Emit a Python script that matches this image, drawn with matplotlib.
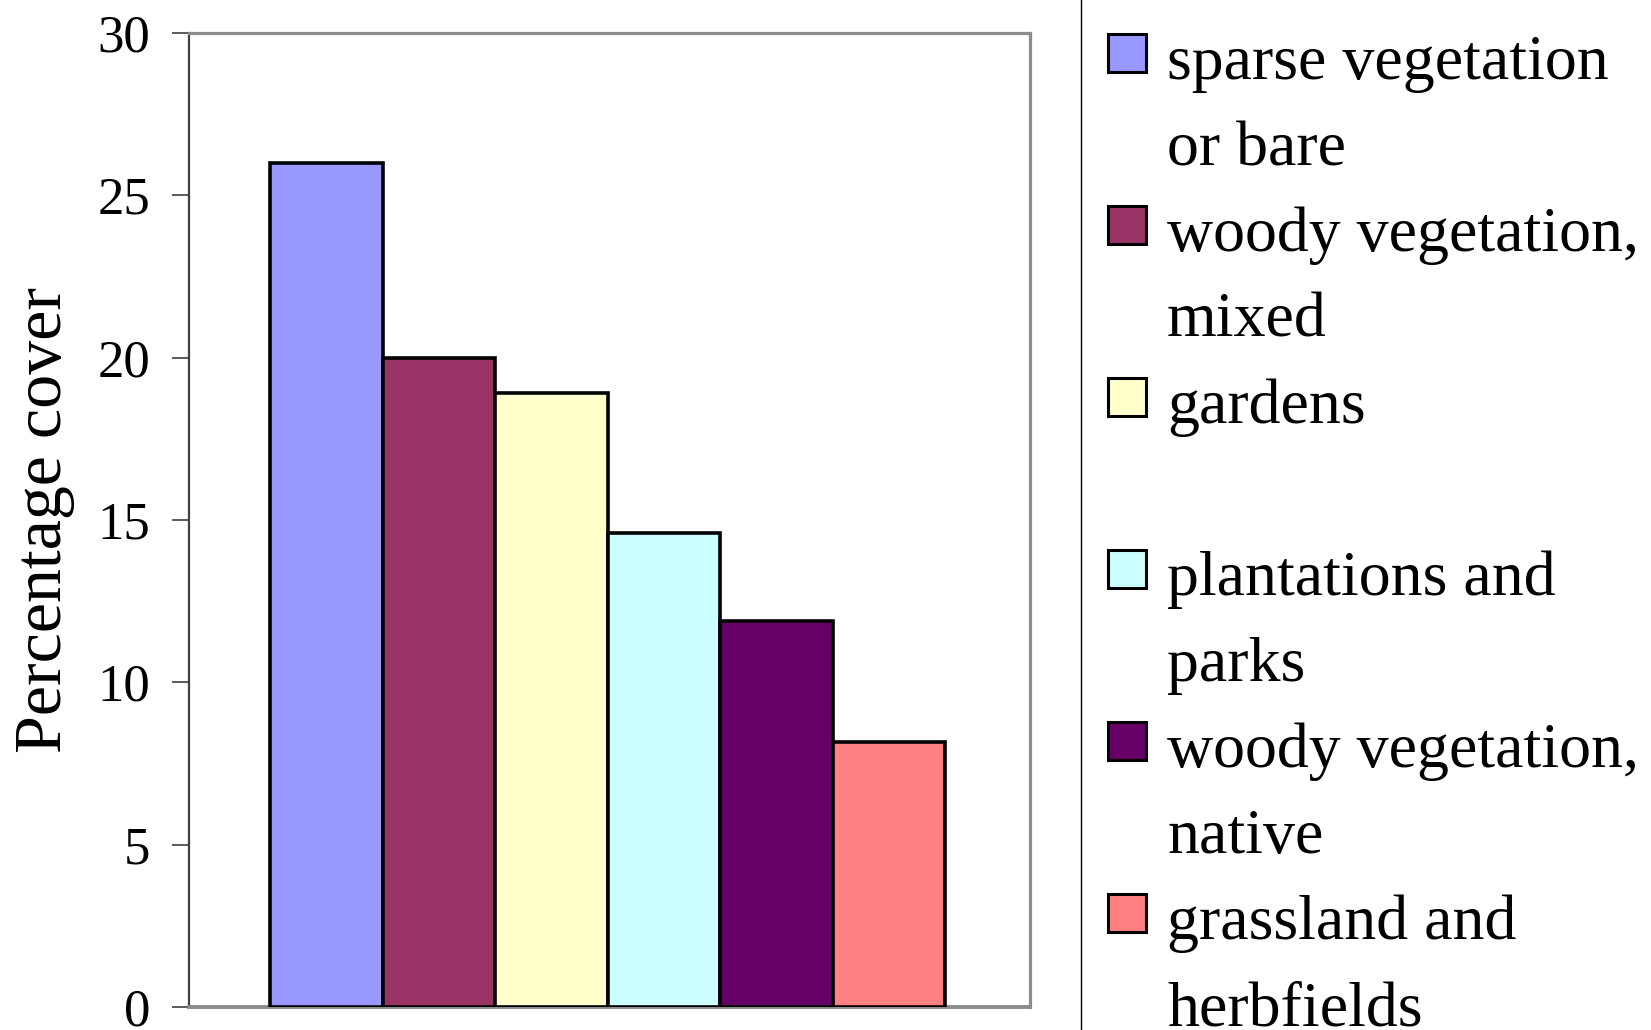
import numpy as np
import matplotlib.pyplot as plt
from matplotlib.patches import Rectangle
from matplotlib.lines import Line2D

plt.rcParams['font.family'] = ['Liberation Serif', 'DejaVu Serif']

# data
categories = ["sparse vegetation or bare", "woody vegetation, mixed", "gardens",
              "plantations and parks", "woody vegetation, native", "grassland and herbfields"]
legend_labels = ["sparse vegetation\nor bare", "woody vegetation,\nmixed", "gardens",
                 "plantations and\nparks", "woody vegetation,\nnative", "grassland and\nherbfields"]
values = [26.0, 20.0, 18.9, 14.6, 11.9, 8.15]
colors = ["#9999FF", "#993366", "#FFFFCC", "#CCFFFF", "#660066", "#FF8080"]
yticks = [0, 5, 10, 15, 20, 25, 30]

W, H = 1651, 1030
fig = plt.figure(figsize=(W / 100, H / 100), dpi=100)
ax = fig.add_axes([189 / W, 1 - 1007 / H, 841 / W, 974 / H])

x = np.arange(len(values))
ax.bar(x, values, width=1.0, color=colors, edgecolor='black', linewidth=2.6, zorder=3)

ax.set_xlim(-1.224, 6.254)
ax.set_ylim(0, 30)
ax.set_yticks(yticks)
ax.set_xticks([])
ax.tick_params(axis='y', direction='out', length=12, width=1.2, color='#404040',
               labelsize=38, pad=16)

for s in ['top', 'right']:
    ax.spines[s].set_color('#8c8c8c')
    ax.spines[s].set_linewidth(2.3)
ax.spines['bottom'].set_color('#8c8c8c')
ax.spines['bottom'].set_linewidth(2.8)
ax.spines['left'].set_color('#404040')
ax.spines['left'].set_linewidth(1.6)

ax.set_ylabel("Percentage cover", fontsize=49)
ax.yaxis.set_label_coords(-0.136, 0.5)

# legend, drawn by hand so each entry keeps two lines
fig.add_artist(Line2D([1081 / W, 1081 / W], [0, 1], color='black', linewidth=1.0))
for i, (lab, c) in enumerate(zip(legend_labels, colors)):
    top = 34 + 172 * i
    fig.add_artist(Rectangle((1108 / W, 1 - (top + 38) / H), 38 / W, 38 / H,
                             facecolor=c, edgecolor='black', linewidth=2.2,
                             transform=fig.transFigure))
    for j, line in enumerate(lab.split("\n")):
        fig.text(1167 / W, 1 - (79 + 172 * i + 86 * j) / H, line, fontsize=46,
                 ha='left', va='baseline')

fig.savefig("out.png", dpi=100)
